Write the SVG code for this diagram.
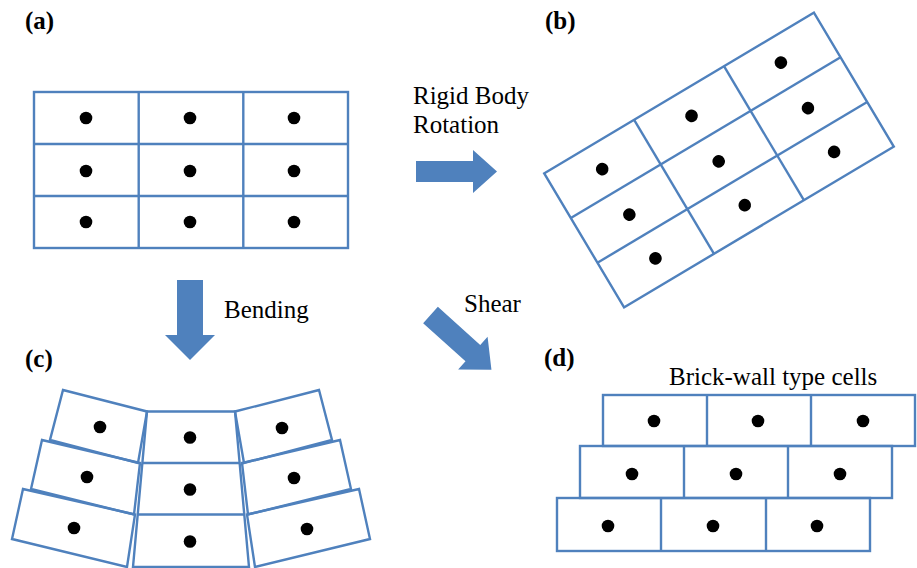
<svg xmlns="http://www.w3.org/2000/svg" xmlns:xlink="http://www.w3.org/1999/xlink" width="917" height="568" viewBox="0 0 917 568">
<style>
.cell{fill:none;stroke:#4f81bd;stroke-width:2.4;stroke-linejoin:miter}
.dot{fill:#000}
.lbl{font-family:"Liberation Serif","Times New Roman",serif;font-size:25px;font-weight:bold;fill:#000}
.txt{font-family:"Liberation Serif","Times New Roman",serif;font-size:25px;fill:#000}
.arrow{fill:#4f81bd;stroke:none}
</style>
<defs>
<g id="grid">
<rect class="cell" x="34" y="92" width="314" height="156"/>
<line class="cell" x1="138.7" y1="92" x2="138.7" y2="248"/>
<line class="cell" x1="243.3" y1="92" x2="243.3" y2="248"/>
<line class="cell" x1="34" y1="144" x2="348" y2="144"/>
<line class="cell" x1="34" y1="196" x2="348" y2="196"/>
<circle class="dot" cx="86" cy="118" r="6.3"/>
<circle class="dot" cx="190" cy="118" r="6.3"/>
<circle class="dot" cx="294" cy="118" r="6.3"/>
<circle class="dot" cx="86" cy="171" r="6.3"/>
<circle class="dot" cx="190" cy="171" r="6.3"/>
<circle class="dot" cx="294" cy="171" r="6.3"/>
<circle class="dot" cx="86" cy="222" r="6.3"/>
<circle class="dot" cx="190" cy="222" r="6.3"/>
<circle class="dot" cx="294" cy="222" r="6.3"/>
</g>
<g id="leftcol">
<polygon class="cell" points="63,390 147,411.5 138,463 50,440"/>
<polygon class="cell" points="42,440 140,463 134,514.5 31,489"/>
<polygon class="cell" points="23,489 135,514.5 127,567 12,539"/>
</g>
</defs>

<g id="panel-a">
<text class="lbl" x="25" y="29">(a)</text>
<use xlink:href="#grid" href="#grid"/>
</g>

<g id="panel-b">
<text class="lbl" x="545" y="29">(b)</text>
<use xlink:href="#grid" href="#grid" transform="translate(719,160) rotate(-30.8) translate(-191,-170)"/>
</g>

<g id="panel-c">
<text class="lbl" x="25" y="367">(c)</text>
<use xlink:href="#leftcol" href="#leftcol"/>
<use xlink:href="#leftcol" href="#leftcol" transform="translate(382,0) scale(-1,1)"/>
<polygon class="cell" points="147,411.5 235,411.5 249,567 133,567"/>
<line class="cell" x1="142.4" y1="463" x2="239.6" y2="463"/>
<line class="cell" x1="137.8" y1="514.5" x2="244.2" y2="514.5"/>
<circle class="dot" cx="100" cy="427" r="6.3"/>
<circle class="dot" cx="87" cy="477" r="6.3"/>
<circle class="dot" cx="74" cy="528" r="6.3"/>
<circle class="dot" cx="190" cy="437.5" r="6.3"/>
<circle class="dot" cx="190" cy="489.5" r="6.3"/>
<circle class="dot" cx="190" cy="541.5" r="6.3"/>
<circle class="dot" cx="282" cy="428" r="6.3"/>
<circle class="dot" cx="294" cy="478" r="6.3"/>
<circle class="dot" cx="307" cy="529" r="6.3"/>
</g>

<g id="panel-d">
<text class="lbl" x="544" y="366">(d)</text>
<text class="txt" x="669" y="385">Brick-wall type cells</text>
<rect class="cell" x="603" y="395" width="312" height="51"/>
<line class="cell" x1="707" y1="395" x2="707" y2="446"/>
<line class="cell" x1="811" y1="395" x2="811" y2="446"/>
<rect class="cell" x="580" y="446" width="312" height="52"/>
<line class="cell" x1="684" y1="446" x2="684" y2="498"/>
<line class="cell" x1="788" y1="446" x2="788" y2="498"/>
<rect class="cell" x="557" y="498" width="313" height="53"/>
<line class="cell" x1="661" y1="498" x2="661" y2="551"/>
<line class="cell" x1="766" y1="498" x2="766" y2="551"/>
<circle class="dot" cx="654" cy="421" r="6.3"/>
<circle class="dot" cx="758" cy="421" r="6.3"/>
<circle class="dot" cx="863" cy="421" r="6.3"/>
<circle class="dot" cx="632" cy="474" r="6.3"/>
<circle class="dot" cx="736" cy="474" r="6.3"/>
<circle class="dot" cx="840" cy="474" r="6.3"/>
<circle class="dot" cx="608" cy="526" r="6.3"/>
<circle class="dot" cx="713" cy="526" r="6.3"/>
<circle class="dot" cx="817" cy="526" r="6.3"/>
</g>

<g id="connectors">
<g id="arrow-rotation">
<polygon class="arrow" points="416,161 473,161 473,150 497,171.5 473,193 473,182 416,182"/>
<text class="txt" x="413" y="104">Rigid Body</text>
<text class="txt" x="413" y="133">Rotation</text>
</g>
<g id="arrow-bending">
<polygon class="arrow" points="177,280 203,280 203,335 215,335 190,360 165,335 177,335"/>
<text class="txt" x="224" y="318">Bending</text>
</g>
<g id="arrow-shear">
<polygon class="arrow" points="0,-11 57,-11 57,-22 82,0 57,22 57,11 0,11" transform="translate(430.5,315) rotate(42)"/>
<text class="txt" x="464" y="312">Shear</text>
</g>
</g>
</svg>
